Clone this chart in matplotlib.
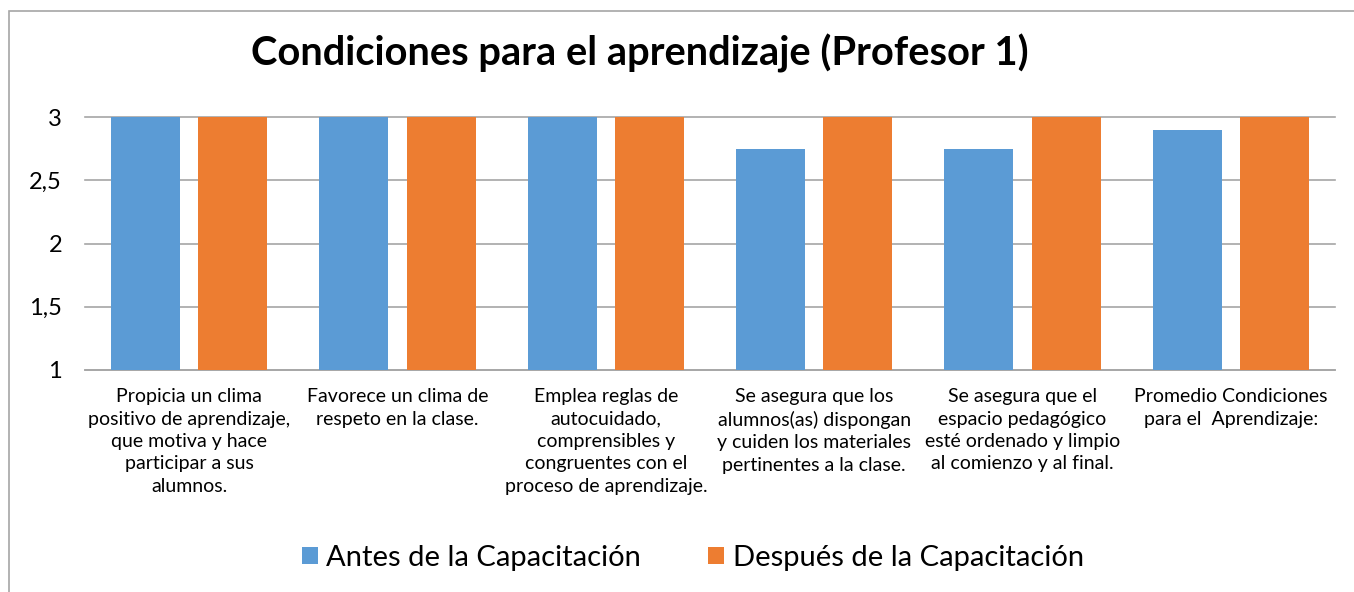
import matplotlib
matplotlib.use("Agg")
import matplotlib.pyplot as plt
import numpy as np
from matplotlib.patches import Rectangle

categories = [
    "Propicia un clima\npositivo de aprendizaje,\nque motiva y hace\nparticipar a sus\nalumnos.",
    "Favorece un clima de\nrespeto en la clase.",
    "Emplea reglas de\nautocuidado,\ncomprensibles y\ncongruentes con el\nproceso de aprendizaje.",
    "Se asegura que los\nalumnos(as) dispongan\ny cuiden los materiales\npertinentes a la clase.",
    "Se asegura que el\nespacio pedagógico\nesté ordenado y limpio\nal comienzo y al final.",
    "Promedio Condiciones\npara el  Aprendizaje:",
]
antes = [3, 3, 3, 2.75, 2.75, 2.9]
despues = [3, 3, 3, 3, 3, 3]
series_names = ["Antes de la Capacitación", "Después de la Capacitación"]
y_ticks = [1, 1.5, 2, 2.5, 3]
y_tick_labels = ["1", "1,5", "2", "2,5", "3"]
title = "Condiciones para el aprendizaje (Profesor 1)"

plt.rcParams['font.family'] = ['Lato', 'DejaVu Sans']

W, H = 1354, 592
fig = plt.figure(figsize=(W / 100, H / 100), dpi=100)
ax = fig.add_axes([85 / W, 1 - 370 / H, 1250 / W, 253 / H])

x = np.arange(len(categories))
bw = 0.331
off = 0.209
blue = "#5B9BD5"
orange = "#ED7D31"
b1 = ax.bar(x - off, antes, bw, color=blue, label=series_names[0], zorder=3)
b2 = ax.bar(x + off, despues, bw, color=orange, label=series_names[1], zorder=3)

ax.set_xlim(-0.5, len(categories) - 0.5)
ax.set_ylim(1, 3)
ax.set_yticks(y_ticks)
ax.set_yticklabels(y_tick_labels, fontsize=17)
ax.set_xticks(x)
ax.set_xticklabels(categories, fontsize=14, linespacing=1.39, va="top")
ax.tick_params(axis="both", length=0)
ax.tick_params(axis="y", pad=16.5)
ax.tick_params(axis="x", pad=13)
for s in ["top", "right", "left"]:
    ax.spines[s].set_visible(False)
ax.spines["bottom"].set_color("#a6a6a6")
ax.spines["bottom"].set_linewidth(1.2)
ax.grid(axis="y", color="#a6a6a6", linewidth=1.2, zorder=0)
ax.set_axisbelow(True)
for gl in ax.get_ygridlines():
    gl.set_clip_on(False)

fig.text(640 / W, 1 - 53 / H, title, ha="center", va="center",
         fontsize=28.7, fontweight="bold")

leg = fig.legend(handles=[b1, b2], labels=series_names, loc="center",
                 bbox_to_anchor=(693 / W, 1 - 558 / H), ncol=2, frameon=False,
                 fontsize=21, handlelength=0.55, handleheight=0.55,
                 handletextpad=0.3, columnspacing=2.3)

fig.patches.append(Rectangle((9 / W, -0.1), 1.2, 1 - 11 / H + 0.1,
                             transform=fig.transFigure, fill=False,
                             edgecolor="#a6a6a6", linewidth=1.2))

fig.savefig("out.png", dpi=100)
